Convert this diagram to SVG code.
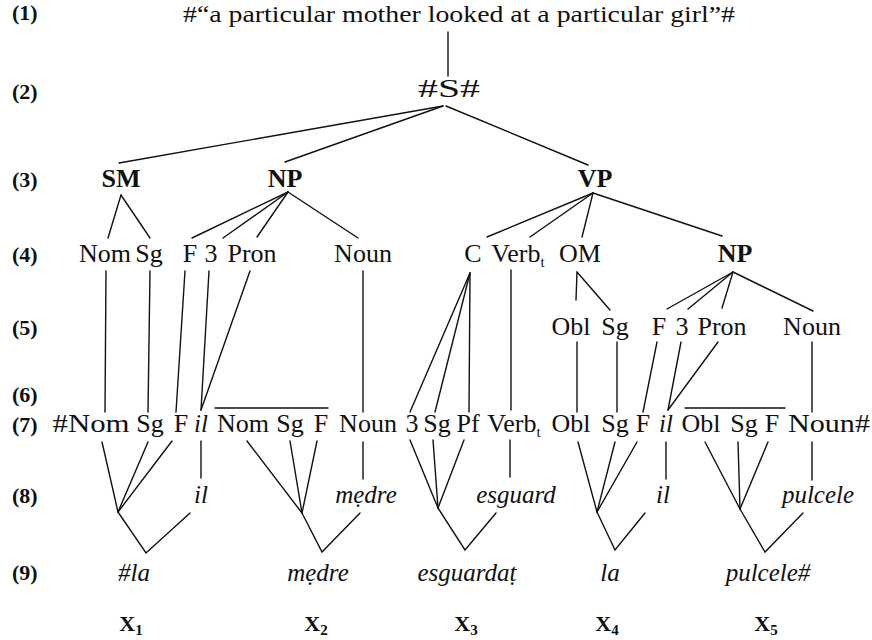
<svg xmlns="http://www.w3.org/2000/svg" width="872" height="640" viewBox="0 0 872 640" font-family="'Liberation Serif', 'DejaVu Serif', serif">
<style>
text{font-family:'Liberation Serif','DejaVu Serif',serif;fill:#111}
.t{font-size:26px;text-anchor:middle}
.b{font-weight:bold}
.i{font-style:italic;font-size:25px}
.lab{font-size:22px;font-weight:bold}
.sub{font-size:15px}
.x{font-size:22px;font-weight:bold;text-anchor:middle}
#connectors line,#connectors polyline{stroke:#111;stroke-width:1.4;fill:none;stroke-linecap:round}
</style>
<rect width="872" height="640" fill="#fff"/>
<g id="row-labels">
<text class="lab" x="12" y="20">(1)</text>
<text class="lab" x="12" y="99">(2)</text>
<text class="lab" x="12" y="187">(3)</text>
<text class="lab" x="12" y="262">(4)</text>
<text class="lab" x="12" y="335">(5)</text>
<text class="lab" x="12" y="402">(6)</text>
<text class="lab" x="12" y="432">(7)</text>
<text class="lab" x="12" y="503">(8)</text>
<text class="lab" x="12" y="580">(9)</text>
</g>
<g id="n-sentence"><text class="t" style="font-size:23px" x="459" y="22" textLength="552" lengthAdjust="spacingAndGlyphs">#“a particular mother looked at a particular girl”#</text></g>
<g id="n-S"><text class="t" x="449" y="97" textLength="62" lengthAdjust="spacingAndGlyphs">#S#</text></g>
<g id="n-SM"><text class="t b" x="121" y="187">SM</text></g>
<g id="n-NP1"><text class="t b" x="285" y="187">NP</text></g>
<g id="n-VP"><text class="t b" x="595" y="187">VP</text></g>
<g id="r4-Nom"><text class="t" x="105" y="262">Nom</text></g>
<g id="r4-Sg"><text class="t" x="149" y="262">Sg</text></g>
<g id="r4-F"><text class="t" x="190" y="262">F</text></g>
<g id="r4-3"><text class="t" x="211" y="262">3</text></g>
<g id="r4-Pron"><text class="t" x="252" y="262">Pron</text></g>
<g id="r4-Noun"><text class="t" x="363" y="262">Noun</text></g>
<g id="r4-C"><text class="t" x="473" y="262">C</text></g>
<g id="r4-Verb"><text class="t" x="518" y="262">Verb<tspan class="sub" dy="5">t</tspan></text></g>
<g id="r4-OM"><text class="t" x="580" y="262">OM</text></g>
<g id="r4-NP"><text class="t b" x="735" y="262">NP</text></g>
<g id="r5-Obl"><text class="t" x="571" y="335">Obl</text></g>
<g id="r5-Sg"><text class="t" x="615" y="335">Sg</text></g>
<g id="r5-F"><text class="t" x="659" y="335">F</text></g>
<g id="r5-3"><text class="t" x="682" y="335">3</text></g>
<g id="r5-Pron"><text class="t" x="722" y="335">Pron</text></g>
<g id="r5-Noun"><text class="t" x="812" y="335">Noun</text></g>
<g id="r7-Nom1"><text class="t" x="91" y="432" textLength="77" lengthAdjust="spacingAndGlyphs">#Nom</text></g>
<g id="r7-Sg1"><text class="t" x="150" y="432">Sg</text></g>
<g id="r7-F1"><text class="t" x="181" y="432">F</text></g>
<g id="r7-il1"><text class="t i" x="201" y="432">il</text></g>
<g id="r7-Nom2"><text class="t" x="243" y="432">Nom</text></g>
<g id="r7-Sg2"><text class="t" x="290" y="432">Sg</text></g>
<g id="r7-F2"><text class="t" x="321" y="432">F</text></g>
<g id="r7-Noun1"><text class="t" x="368" y="432">Noun</text></g>
<g id="r7-3"><text class="t" x="412" y="432">3</text></g>
<g id="r7-Sg3"><text class="t" x="437" y="432">Sg</text></g>
<g id="r7-Pf"><text class="t" x="468" y="432">Pf</text></g>
<g id="r7-Verb"><text class="t" x="514" y="432">Verb<tspan class="sub" dy="5">t</tspan></text></g>
<g id="r7-Obl1"><text class="t" x="571" y="432">Obl</text></g>
<g id="r7-Sg4"><text class="t" x="615" y="432">Sg</text></g>
<g id="r7-F3"><text class="t" x="643" y="432">F</text></g>
<g id="r7-il2"><text class="t i" x="666" y="432">il</text></g>
<g id="r7-Obl2"><text class="t" x="701" y="432">Obl</text></g>
<g id="r7-Sg5"><text class="t" x="744" y="432">Sg</text></g>
<g id="r7-F4"><text class="t" x="772" y="432">F</text></g>
<g id="r7-Noun2"><text class="t" x="829" y="432" textLength="82" lengthAdjust="spacingAndGlyphs">Noun#</text></g>
<g id="r8-il1"><text class="t i" x="201" y="503">il</text></g>
<g id="r8-medre"><text class="t i" x="366" y="503">mẹdre</text></g>
<g id="r8-esguard"><text class="t i" x="516" y="503">esguard</text></g>
<g id="r8-il2"><text class="t i" x="663" y="503">il</text></g>
<g id="r8-pulcele"><text class="t i" x="818" y="503">pulcele</text></g>
<g id="r9-la1"><text class="t i" x="134" y="581">#la</text></g>
<g id="r9-medre"><text class="t i" x="318" y="581">mẹdre</text></g>
<g id="r9-esguardat"><text class="t i" x="467" y="581">esguardaṭ</text></g>
<g id="r9-la2"><text class="t i" x="610" y="581">la</text></g>
<g id="r9-pulcele"><text class="t i" x="768" y="581">pulcele#</text></g>
<g id="X1"><text class="x" x="131" y="631">X<tspan class="sub" dy="4">1</tspan></text></g>
<g id="X2"><text class="x" x="316" y="631">X<tspan class="sub" dy="4">2</tspan></text></g>
<g id="X3"><text class="x" x="466" y="631">X<tspan class="sub" dy="4">3</tspan></text></g>
<g id="X4"><text class="x" x="607" y="631">X<tspan class="sub" dy="4">4</tspan></text></g>
<g id="X5"><text class="x" x="766" y="631">X<tspan class="sub" dy="4">5</tspan></text></g>
<g id="connectors">
<line x1="448" y1="32" x2="448" y2="76"/>
<line x1="443" y1="106" x2="119" y2="163"/>
<line x1="443" y1="106" x2="285" y2="162"/>
<line x1="446" y1="106" x2="588" y2="165"/>
<line x1="121" y1="195" x2="108" y2="238"/>
<line x1="121" y1="195" x2="150" y2="238"/>
<line x1="288" y1="192" x2="192" y2="238"/>
<line x1="288" y1="192" x2="223" y2="238"/>
<line x1="288" y1="192" x2="257" y2="237"/>
<line x1="288" y1="192" x2="358" y2="238"/>
<line x1="593" y1="193" x2="487" y2="237"/>
<line x1="593" y1="193" x2="530" y2="237"/>
<line x1="593" y1="193" x2="582" y2="237"/>
<line x1="593" y1="193" x2="722" y2="236"/>
<line x1="106" y1="271" x2="105" y2="412"/>
<line x1="150" y1="271" x2="148" y2="412"/>
<line x1="185" y1="271" x2="176" y2="412"/>
<line x1="209" y1="271" x2="201" y2="410"/>
<line x1="250" y1="271" x2="201" y2="410"/>
<line x1="363" y1="271" x2="363" y2="412"/>
<line x1="470" y1="273" x2="410" y2="412"/>
<line x1="470" y1="273" x2="435" y2="412"/>
<line x1="470" y1="273" x2="469" y2="412"/>
<line x1="511" y1="270" x2="511" y2="410"/>
<line x1="577" y1="272" x2="576" y2="300"/>
<line x1="577" y1="272" x2="610" y2="310"/>
<line x1="733" y1="272" x2="667" y2="309"/>
<line x1="733" y1="272" x2="688" y2="309"/>
<line x1="733" y1="272" x2="722" y2="308"/>
<line x1="733" y1="272" x2="813" y2="311"/>
<line x1="577" y1="342" x2="577" y2="412"/>
<line x1="617" y1="342" x2="617" y2="412"/>
<line x1="657" y1="342" x2="643" y2="412"/>
<line x1="681" y1="342" x2="668" y2="410"/>
<line x1="718" y1="342" x2="668" y2="410"/>
<line x1="812" y1="342" x2="812" y2="412"/>
<line x1="215" y1="408" x2="328" y2="408"/>
<line x1="685" y1="408" x2="785" y2="408"/>
<line x1="102" y1="442" x2="118" y2="512"/>
<line x1="148" y1="442" x2="118" y2="512"/>
<line x1="172" y1="441" x2="118" y2="512"/>
<polyline points="118,512 146,553 190,513"/>
<line x1="201" y1="441" x2="201" y2="478"/>
<line x1="247" y1="441" x2="302" y2="513"/>
<line x1="290" y1="441" x2="302" y2="513"/>
<line x1="317" y1="441" x2="302" y2="513"/>
<polyline points="302,513 322,552 360,513"/>
<line x1="363" y1="442" x2="363" y2="479"/>
<line x1="410" y1="440" x2="438" y2="508"/>
<line x1="433" y1="440" x2="438" y2="508"/>
<line x1="464" y1="440" x2="438" y2="508"/>
<polyline points="438,508 465,550 496,513"/>
<line x1="510" y1="440" x2="510" y2="477"/>
<line x1="578" y1="442" x2="597" y2="512"/>
<line x1="615" y1="442" x2="597" y2="512"/>
<line x1="637" y1="442" x2="597" y2="512"/>
<polyline points="597,512 615,550 645,513"/>
<line x1="666" y1="442" x2="666" y2="479"/>
<line x1="705" y1="442" x2="740" y2="509"/>
<line x1="738" y1="442" x2="740" y2="509"/>
<line x1="768" y1="442" x2="740" y2="509"/>
<polyline points="740,509 765,552 803,513"/>
<line x1="812" y1="442" x2="812" y2="480"/>
</g>
</svg>
